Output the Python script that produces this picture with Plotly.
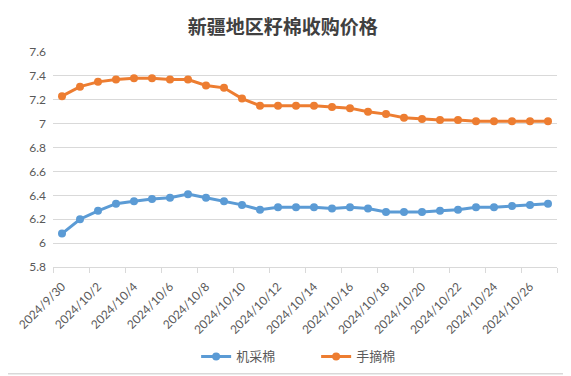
import plotly.graph_objects as go

dates = ["2024/9/30"] + [f"2024/10/{d}" for d in range(1, 28)]
machine_cotton = [6.08, 6.20, 6.27, 6.33, 6.35, 6.37, 6.38, 6.41, 6.38, 6.35,
                  6.32, 6.28, 6.30, 6.30, 6.30, 6.29, 6.30, 6.29, 6.26, 6.26,
                  6.26, 6.27, 6.28, 6.30, 6.30, 6.31, 6.32, 6.33]
hand_cotton = [7.23, 7.31, 7.35, 7.37, 7.38, 7.38, 7.37, 7.37, 7.32, 7.30,
               7.21, 7.15, 7.15, 7.15, 7.15, 7.14, 7.13, 7.10, 7.08, 7.05,
               7.04, 7.03, 7.03, 7.02, 7.02, 7.02, 7.02, 7.02]
series_names = ["机采棉", "手摘棉"]
title_text = "新疆地区籽棉收购价格"

tick_labels = dates[::2]
boundary_ticks = [i - 0.5 for i in range(0, len(dates) + 1, 2)]

fig = go.Figure()
fig.add_trace(go.Scatter(x=dates, y=machine_cotton, name=series_names[0], mode="lines+markers",
                         line=dict(color="#5B9BD5", width=3), marker=dict(size=8, color="#5B9BD5")))
fig.add_trace(go.Scatter(x=dates, y=hand_cotton, name=series_names[1], mode="lines+markers",
                         line=dict(color="#ED7D31", width=3), marker=dict(size=8, color="#ED7D31")))

tick_font = dict(family="Lato, Liberation Sans, sans-serif", size=12, color="#595959")

fig.update_layout(
    width=563, height=368,
    margin=dict(l=45, r=14, t=44, b=109, autoexpand=False),
    paper_bgcolor="white", plot_bgcolor="white",
    title=dict(text=title_text, x=0.488, xref="container", xanchor="center",
               y=1 - 19 / 368, yref="container", yanchor="middle",
               font=dict(family="Noto Sans CJK SC", size=19, color="#404040", weight="bold")),
    xaxis=dict(type="category", categoryorder="array", categoryarray=dates,
               range=[-0.5, len(dates) - 0.5], tickmode="array", tickvals=tick_labels,
               ticktext=tick_labels, tickangle=-45, tickfont=tick_font, showgrid=False,
               showline=True, linecolor="#D9D9D9", linewidth=1, ticks="", zeroline=False,
               automargin=False, ticklabelstandoff=7),
    xaxis2=dict(overlaying="x", anchor="y", side="bottom", type="linear",
                range=[-0.5, len(dates) - 0.5], tickmode="array", tickvals=boundary_ticks,
                showticklabels=False, ticks="outside", ticklen=5, tickcolor="#D9D9D9",
                showgrid=False, zeroline=False, showline=False, automargin=False),
    yaxis=dict(range=[5.8, 7.6], dtick=0.2, tick0=5.8, tickfont=tick_font,
               gridcolor="#D9D9D9", gridwidth=1, zeroline=False, showline=False,
               ticklabelstandoff=6, automargin=False),
    legend=dict(orientation="h", x=0.284, xanchor="left", y=-0.416, yanchor="middle",
                font=dict(family="Noto Sans CJK SC", size=13, color="#595959"),
                itemwidth=30, entrywidth=75, entrywidthmode="pixels", traceorder="normal"),
    showlegend=True,
    shapes=[
        dict(type="line", xref="paper", yref="paper", x0=1.0188, x1=1.0188,
             y0=-0.497, y1=1.3, line=dict(color="#D9D9D9", width=1.5), layer="below"),
        dict(type="line", xref="paper", yref="paper", x0=-0.2, x1=1.0188,
             y0=-0.497, y1=-0.497, line=dict(color="#D9D9D9", width=1.5), layer="below"),
    ],
)
# invisible trace so xaxis2 renders its tick marks
fig.add_trace(go.Scatter(x=[0], y=[6], xaxis="x2", mode="markers", marker=dict(opacity=0),
                         showlegend=False, hoverinfo="skip"))

fig.write_html("out.html")
